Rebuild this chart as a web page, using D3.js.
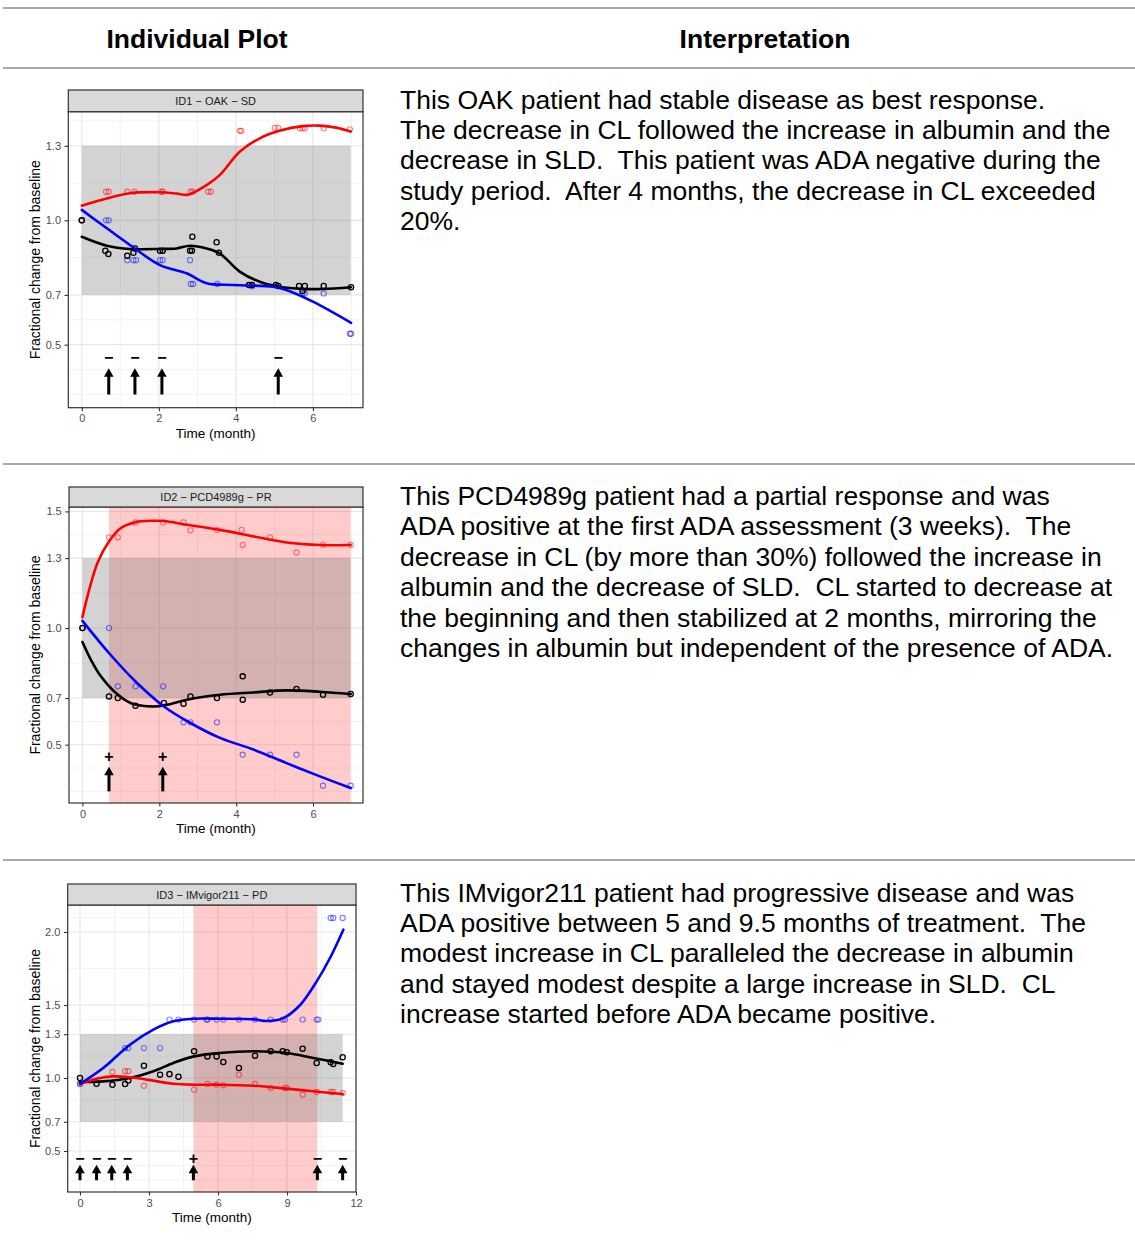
<!DOCTYPE html>
<html>
<head>
<meta charset="utf-8">
<script src="https://cdn.jsdelivr.net/npm/d3@7"></script>
<style>
  body { margin: 0; background: #fff; }
  svg { display: block; }
  text { font-family: "Liberation Sans", Arial, Helvetica, sans-serif; }
</style>
</head>
<body>
<svg id="chart" width="1135" height="1240"></svg>
<script>
// ---------------- DATA ----------------
const headers = ["Individual Plot", "Interpretation"];
const stripTitles = ["ID1 \u2212 OAK \u2212 SD", "ID2 \u2212 PCD4989g \u2212 PR", "ID3 \u2212 IMvigor211 \u2212 PD"];
const xAxisTitle = "Time (month)";
const yAxisTitle = "Fractional change from baseline";

const interp1 = [
  "This OAK patient had stable disease as best response.",
  "The decrease in CL followed the increase in albumin and the",
  "decrease in SLD.  This patient was ADA negative during the",
  "study period.  After 4 months, the decrease in CL exceeded",
  "20%."
];
const interp2 = [
  "This PCD4989g patient had a partial response and was",
  "ADA positive at the first ADA assessment (3 weeks).  The",
  "decrease in CL (by more than 30%) followed the increase in",
  "albumin and the decrease of SLD.  CL started to decrease at",
  "the beginning and then stabilized at 2 months, mirroring the",
  "changes in albumin but independent of the presence of ADA."
];
const interp3 = [
  "This IMvigor211 patient had progressive disease and was",
  "ADA positive between 5 and 9.5 months of treatment.  The",
  "modest increase in CL paralleled the decrease in albumin",
  "and stayed modest despite a large increase in SLD.  CL",
  "increase started before ADA became positive."
];

const xTicks1 = [0, 2, 4, 6];
const xTicks2 = [0, 2, 4, 6];
const xTicks3 = [0, 3, 6, 9, 12];
const yTicks1 = [0.5, 0.7, 1.0, 1.3];
const yTicks2 = [0.5, 0.7, 1.0, 1.3, 1.5];
const yTicks3 = [0.5, 0.7, 1.0, 1.3, 1.5, 2.0];

// reference band (fractional change 0.7 - 1.3)
const bandLimits = [0.7, 1.3];
const bandTime1 = [0, 6.98];
const bandTime2 = [0, 6.98];
const bandTime3 = [0, 11.42];
// ADA-positive windows
const adaWindow2 = [0.69, 6.98];
const adaWindow3 = [4.93, 10.32];

// ---- ID1 ----
const id1Albumin = [[0,1.0],[0.63,1.115],[0.70,1.115],[1.18,1.115],[1.36,1.115],[2.06,1.115],[2.10,1.115],[2.82,1.115],[2.88,1.115],[3.28,1.115],[3.35,1.115],[4.10,1.36],[4.14,1.36],[5.01,1.372],[5.10,1.372],[5.66,1.37],[5.73,1.37],[5.79,1.37],[6.28,1.37],[6.96,1.366]];
const id1CL = [[0,1.0],[0.61,0.878],[0.69,0.865],[1.18,0.858],[1.34,0.870],[1.38,0.887],[2.03,0.878],[2.10,0.878],[2.81,0.878],[2.86,0.878],[2.87,0.934],[3.50,0.912],[3.56,0.870],[4.34,0.740],[4.42,0.740],[5.04,0.740],[5.10,0.736],[5.64,0.736],[5.79,0.736],[5.73,0.716],[6.28,0.736],[6.99,0.731]];
const id1SLD = [[0,1.0],[0.63,1.0],[0.70,1.0],[1.18,0.84],[1.34,0.84],[1.41,0.84],[2.03,0.84],[2.10,0.84],[2.81,0.84],[2.83,0.744],[2.89,0.744],[3.52,0.744],[4.34,0.74],[4.42,0.735],[5.73,0.706],[5.79,0.706],[6.28,0.706],[6.96,0.544],[6.99,0.544]];
const id1AlbuminFit = [[0,1.059],[0.65,1.088],[1.25,1.109],[2.03,1.113],[2.46,1.108],[2.76,1.103],[3.24,1.142],[3.58,1.182],[4.1,1.276],[4.62,1.330],[5.13,1.360],[5.74,1.379],[6.18,1.381],[6.6,1.373],[6.98,1.357]];
const id1CLFit = [[0,0.934],[0.65,0.898],[1.25,0.885],[2.03,0.885],[2.46,0.887],[2.81,0.898],[3.24,0.887],[3.58,0.867],[4.1,0.794],[4.62,0.753],[5.13,0.733],[5.74,0.724],[6.26,0.724],[6.99,0.731]];
const id1SLDFit = [[0,1.042],[0.65,0.968],[1.25,0.901],[2.03,0.820],[2.72,0.787],[3.24,0.747],[3.93,0.740],[4.97,0.733],[5.31,0.72],[6.0,0.673],[6.99,0.588]];
const id1AdaTime = [0.70, 1.38, 2.08, 5.10];
const id1AdaSign = ["\u2212", "\u2212", "\u2212", "\u2212"];

// ---- ID2 ----
const id2Albumin = [[0,1.0],[0.69,1.389],[0.92,1.389],[1.38,1.453],[2.10,1.453],[2.63,1.453],[2.81,1.419],[3.50,1.421],[4.14,1.421],[4.17,1.356],[4.88,1.389],[5.57,1.324],[6.26,1.357],[6.98,1.356]];
const id2CL = [[0,1.0],[0.69,0.707],[0.92,0.70],[1.38,0.667],[2.12,0.679],[2.63,0.676],[2.81,0.707],[3.50,0.70],[4.17,0.793],[4.17,0.693],[4.88,0.724],[5.57,0.739],[6.26,0.714],[6.98,0.717]];
const id2SLD = [[0,1.0],[0.69,1.0],[0.92,0.75],[1.38,0.75],[2.10,0.75],[2.63,0.596],[2.81,0.596],[3.50,0.596],[4.17,0.457],[4.88,0.457],[5.57,0.457],[6.26,0.324],[6.98,0.324]];
const id2AlbuminFit = [[0,1.046],[0.13,1.136],[0.39,1.279],[0.69,1.371],[1.0,1.429],[1.38,1.454],[1.86,1.46],[2.12,1.459],[2.72,1.443],[3.58,1.421],[4.45,1.393],[5.31,1.367],[6.18,1.356],[6.98,1.356]];
const id2CLFit = [[0,0.94],[0.22,0.864],[0.48,0.793],[0.82,0.729],[1.25,0.679],[1.86,0.664],[2.2,0.671],[2.72,0.693],[3.58,0.714],[4.45,0.724],[5.31,0.733],[6.18,0.727],[6.98,0.717]];
const id2SLDFit = [[0,1.031],[0.69,0.893],[1.38,0.771],[2.12,0.664],[2.81,0.593],[3.58,0.529],[4.45,0.479],[5.31,0.421],[6.18,0.364],[6.98,0.314]];
const id2AdaTime = [0.69, 2.09];
const id2AdaSign = ["+", "+"];

// ---- ID3 ----
const id3Albumin = [[0,0.959],[1.41,1.041],[1.96,1.046],[2.10,1.046],[2.78,0.947],[3.89,1.023],[4.96,0.92],[5.54,0.959],[5.94,0.954],[6.23,0.95],[6.91,1.023],[7.61,0.959],[8.29,0.932],[8.91,0.932],[8.99,0.932],[9.68,0.886],[10.29,0.904],[10.9,0.904],[11.01,0.904],[11.42,0.897]];
const id3CL = [[0,1.0],[0.72,0.961],[1.41,0.954],[1.96,0.959],[2.10,0.982],[2.78,1.084],[3.48,1.023],[3.89,1.027],[4.28,1.009],[4.96,1.183],[5.54,1.148],[5.94,1.148],[6.23,1.11],[6.91,1.068],[7.61,1.153],[8.29,1.183],[8.81,1.183],[8.99,1.176],[9.68,1.201],[10.29,1.103],[10.9,1.107],[11.01,1.096],[11.42,1.142]];
const id3SLD = [[0,0.96],[1.96,1.205],[2.10,1.205],[2.78,1.205],[3.48,1.205],[3.89,1.40],[4.28,1.40],[4.96,1.40],[5.50,1.40],[5.54,1.40],[5.94,1.40],[6.23,1.40],[6.91,1.40],[7.61,1.40],[8.29,1.40],[8.81,1.40],[8.91,1.40],[9.68,1.40],[10.29,1.40],[10.36,1.40],[10.9,2.096],[11.01,2.096],[11.42,2.096]];
const id3AlbuminFit = [[0,0.959],[0.72,0.995],[1.41,1.011],[2.17,1.005],[2.9,0.989],[4.06,0.961],[4.96,0.954],[6.09,0.954],[7.54,0.947],[8.99,0.927],[10.14,0.909],[11.42,0.890]];
const id3CLFit = [[0,0.973],[1.01,0.977],[2.17,1.0],[3.19,1.046],[4.06,1.103],[4.96,1.148],[6.09,1.171],[7.54,1.183],[8.99,1.171],[10.14,1.137],[11.42,1.098]];
const id3SLDFit = [[0,0.959],[1.01,1.068],[2.17,1.228],[3.19,1.331],[4.06,1.388],[4.96,1.406],[6.09,1.406],[7.54,1.402],[8.12,1.39],[8.84,1.41],[9.57,1.50],[10.29,1.662],[10.87,1.822],[11.45,2.016]];
const id3AdaTime = [0, 0.72, 1.38, 2.06, 4.93, 10.32, 11.42];
const id3AdaSign = ["\u2212", "\u2212", "\u2212", "\u2212", "+", "\u2212", "\u2212"];

// ADA marker vertical placement (in y data units)
const adaArrowBase = 0.30, adaArrowTip = 0.405, adaSignLevel = 0.45;

// ---------------- LAYOUT / STYLE ----------------
const svg = d3.select("#chart");
const COL = { albumin: "#ff0000", sld: "#0000ff", cl: "#000000" };

[8, 68, 464, 860].forEach(y => {
  svg.append("line").attr("x1", 3).attr("x2", 1135).attr("y1", y).attr("y2", y)
    .attr("stroke", "#8c8c8c").attr("stroke-width", 1.6);
});
svg.append("text").attr("x", 197).attr("y", 47.5).attr("text-anchor", "middle")
  .attr("font-size", 26.5).attr("font-weight", "bold").text(headers[0]);
svg.append("text").attr("x", 765).attr("y", 47.5).attr("text-anchor", "middle")
  .attr("font-size", 26.5).attr("font-weight", "bold").text(headers[1]);

const paragraphs = [interp1, interp2, interp3];
paragraphs.forEach((lines, r) => {
  const t = svg.append("text").attr("font-size", 26.5).attr("fill", "#000")
    .attr("xml:space", "preserve").style("white-space", "pre");
  lines.forEach((ln, i) => {
    t.append("tspan").attr("x", 400).attr("y", 108.5 + 396.5 * r + 30.45 * i).text(ln);
  });
});

const panels = [
  { left: 68.3, right: 363, stripTop: 90, top: 111.7, bottom: 407.7, xDom: [-0.35, 7.3], yDom: [0.2465, 1.437],
    xTicks: xTicks1, yTicks: yTicks1, band: bandTime1, ada: null,
    alb: id1Albumin, cl: id1CL, sld: id1SLD, albFit: id1AlbuminFit, clFit: id1CLFit, sldFit: id1SLDFit,
    adaT: id1AdaTime, adaS: id1AdaSign, title: stripTitles[0] },
  { left: 69, right: 363, stripTop: 487, top: 507, bottom: 803, xDom: [-0.35, 7.3], yDom: [0.25, 1.519],
    xTicks: xTicks2, yTicks: yTicks2, band: bandTime2, ada: adaWindow2,
    alb: id2Albumin, cl: id2CL, sld: id2SLD, albFit: id2AlbuminFit, clFit: id2CLFit, sldFit: id2SLDFit,
    adaT: id2AdaTime, adaS: id2AdaSign, title: stripTitles[1] },
  { left: 67.7, right: 356, stripTop: 884, top: 905, bottom: 1192, xDom: [-0.535, 12.0], yDom: [0.219, 2.185],
    xTicks: xTicks3, yTicks: yTicks3, band: bandTime3, ada: adaWindow3,
    alb: id3Albumin, cl: id3CL, sld: id3SLD, albFit: id3AlbuminFit, clFit: id3CLFit, sldFit: id3SLDFit,
    adaT: id3AdaTime, adaS: id3AdaSign, title: stripTitles[2] }
];

function minorBreaks(b, lim) {
  const bd = b[1] - b[0];
  const bb = b.slice();
  if (lim[0] < bb[0]) bb.unshift(bb[0] - bd);
  if (lim[1] > bb[bb.length - 1]) bb.push(bb[bb.length - 1] + bd);
  const m = [];
  for (let i = 0; i < bb.length - 1; i++) m.push((bb[i] + bb[i + 1]) / 2);
  return bb.concat(m).filter(v => v >= lim[0] && v <= lim[1] && !b.some(x => Math.abs(x - v) < 1e-9));
}

panels.forEach(p => {
  const x = d3.scaleLinear().domain(p.xDom).range([p.left, p.right]);
  const y = d3.scaleLinear().domain(p.yDom).range([p.bottom, p.top]);
  const g = svg.append("g");
  const clipId = "clip" + p.stripTop;
  g.append("clipPath").attr("id", clipId).append("rect")
    .attr("x", p.left).attr("y", p.top).attr("width", p.right - p.left).attr("height", p.bottom - p.top);
  const body = g.append("g").attr("clip-path", `url(#${clipId})`);
  body.append("rect").attr("x", p.left).attr("y", p.top).attr("width", p.right - p.left)
    .attr("height", p.bottom - p.top).attr("fill", "#fff");

  // grid
  minorBreaks(p.yTicks, p.yDom).forEach(v => body.append("line").attr("x1", p.left).attr("x2", p.right)
    .attr("y1", y(v)).attr("y2", y(v)).attr("stroke", "#ebebeb").attr("stroke-width", 0.6));
  minorBreaks(p.xTicks, p.xDom).forEach(v => body.append("line").attr("y1", p.top).attr("y2", p.bottom)
    .attr("x1", x(v)).attr("x2", x(v)).attr("stroke", "#ebebeb").attr("stroke-width", 0.6));
  p.yTicks.forEach(v => body.append("line").attr("x1", p.left).attr("x2", p.right)
    .attr("y1", y(v)).attr("y2", y(v)).attr("stroke", "#e6e6e6").attr("stroke-width", 1.1));
  p.xTicks.forEach(v => body.append("line").attr("y1", p.top).attr("y2", p.bottom)
    .attr("x1", x(v)).attr("x2", x(v)).attr("stroke", "#e6e6e6").attr("stroke-width", 1.1));

  // ADA positive window
  if (p.ada) {
    body.append("rect").attr("x", x(p.ada[0])).attr("width", x(p.ada[1]) - x(p.ada[0]))
      .attr("y", p.top).attr("height", p.bottom - p.top).attr("fill", "#ff0000").attr("fill-opacity", 0.2);
  }
  // reference band
  body.append("rect").attr("x", x(p.band[0])).attr("width", x(p.band[1]) - x(p.band[0]))
    .attr("y", y(bandLimits[1])).attr("height", y(bandLimits[0]) - y(bandLimits[1]))
    .attr("fill", "#7f7f7f").attr("fill-opacity", 0.34);

  // points
  const pts = (data, color, op, sw) => body.append("g").selectAll("circle").data(data).join("circle")
    .attr("cx", d => x(d[0])).attr("cy", d => y(d[1])).attr("r", 2.6)
    .attr("fill", "none").attr("stroke", color).attr("stroke-opacity", op).attr("stroke-width", sw);
  pts(p.alb, COL.albumin, 0.5, 1.1);
  pts(p.sld, COL.sld, 0.5, 1.1);
  pts(p.cl, COL.cl, 1, 1.3);

  // smooth fits
  const line = d3.line().x(d => x(d[0])).y(d => y(d[1])).curve(d3.curveCatmullRom.alpha(0.5));
  [[p.clFit, COL.cl], [p.albFit, COL.albumin], [p.sldFit, COL.sld]].forEach(([d, c]) => {
    body.append("path").attr("d", line(d)).attr("fill", "none").attr("stroke", c)
      .attr("stroke-width", 2.6).attr("stroke-linecap", "round");
  });

  // ADA arrows and signs
  p.adaT.forEach((t, i) => {
    const cx = x(t), yb = y(adaArrowBase), yt = y(adaArrowTip);
    body.append("line").attr("x1", cx).attr("x2", cx).attr("y1", yb).attr("y2", yt + 5)
      .attr("stroke", "#000").attr("stroke-width", 3);
    body.append("path").attr("d", `M${cx},${yt} L${cx - 4.8},${yt + 8.5} L${cx + 4.8},${yt + 8.5} Z`).attr("fill", "#000");
    body.append("text").attr("x", cx).attr("y", y(adaSignLevel)).attr("text-anchor", "middle")
      .attr("dominant-baseline", "central").attr("font-size", 16).attr("font-weight", "bold")
      .text(p.adaS[i]);
  });

  // panel border
  g.append("rect").attr("x", p.left).attr("y", p.top).attr("width", p.right - p.left)
    .attr("height", p.bottom - p.top).attr("fill", "none").attr("stroke", "#333").attr("stroke-width", 1.2);
  // strip
  g.append("rect").attr("x", p.left).attr("y", p.stripTop).attr("width", p.right - p.left)
    .attr("height", p.top - p.stripTop).attr("fill", "#d9d9d9").attr("stroke", "#333").attr("stroke-width", 1.2);
  g.append("text").attr("x", (p.left + p.right) / 2).attr("y", (p.top + p.stripTop) / 2)
    .attr("dominant-baseline", "central").attr("text-anchor", "middle").attr("font-size", 11)
    .attr("fill", "#1a1a1a").text(p.title);

  // axes
  const ax = g.append("g").attr("transform", `translate(0,${p.bottom})`)
    .call(d3.axisBottom(x).tickValues(p.xTicks).tickFormat(d3.format("d")).tickSize(3.5).tickPadding(3.5));
  const ay = g.append("g").attr("transform", `translate(${p.left},0)`)
    .call(d3.axisLeft(y).tickValues(p.yTicks).tickFormat(d3.format(".1f")).tickSize(3.8).tickPadding(3.5));
  [ax, ay].forEach(a => {
    a.select(".domain").remove();
    a.selectAll(".tick line").attr("stroke", "#333").attr("stroke-width", 1.1);
    a.selectAll(".tick text").attr("fill", "#4d4d4d").attr("font-size", 11)
      .attr("font-family", '"Liberation Sans", Arial, sans-serif');
  });

  g.append("text").attr("x", (p.left + p.right) / 2).attr("y", p.bottom + 30).attr("text-anchor", "middle")
    .attr("font-size", 13.5).attr("fill", "#000").text(xAxisTitle);
  g.append("text").attr("transform", `translate(39.5,${(p.top + p.bottom) / 2}) rotate(-90)`)
    .attr("text-anchor", "middle").attr("font-size", 14).attr("fill", "#000").text(yAxisTitle);
});
</script>
</body>
</html>
